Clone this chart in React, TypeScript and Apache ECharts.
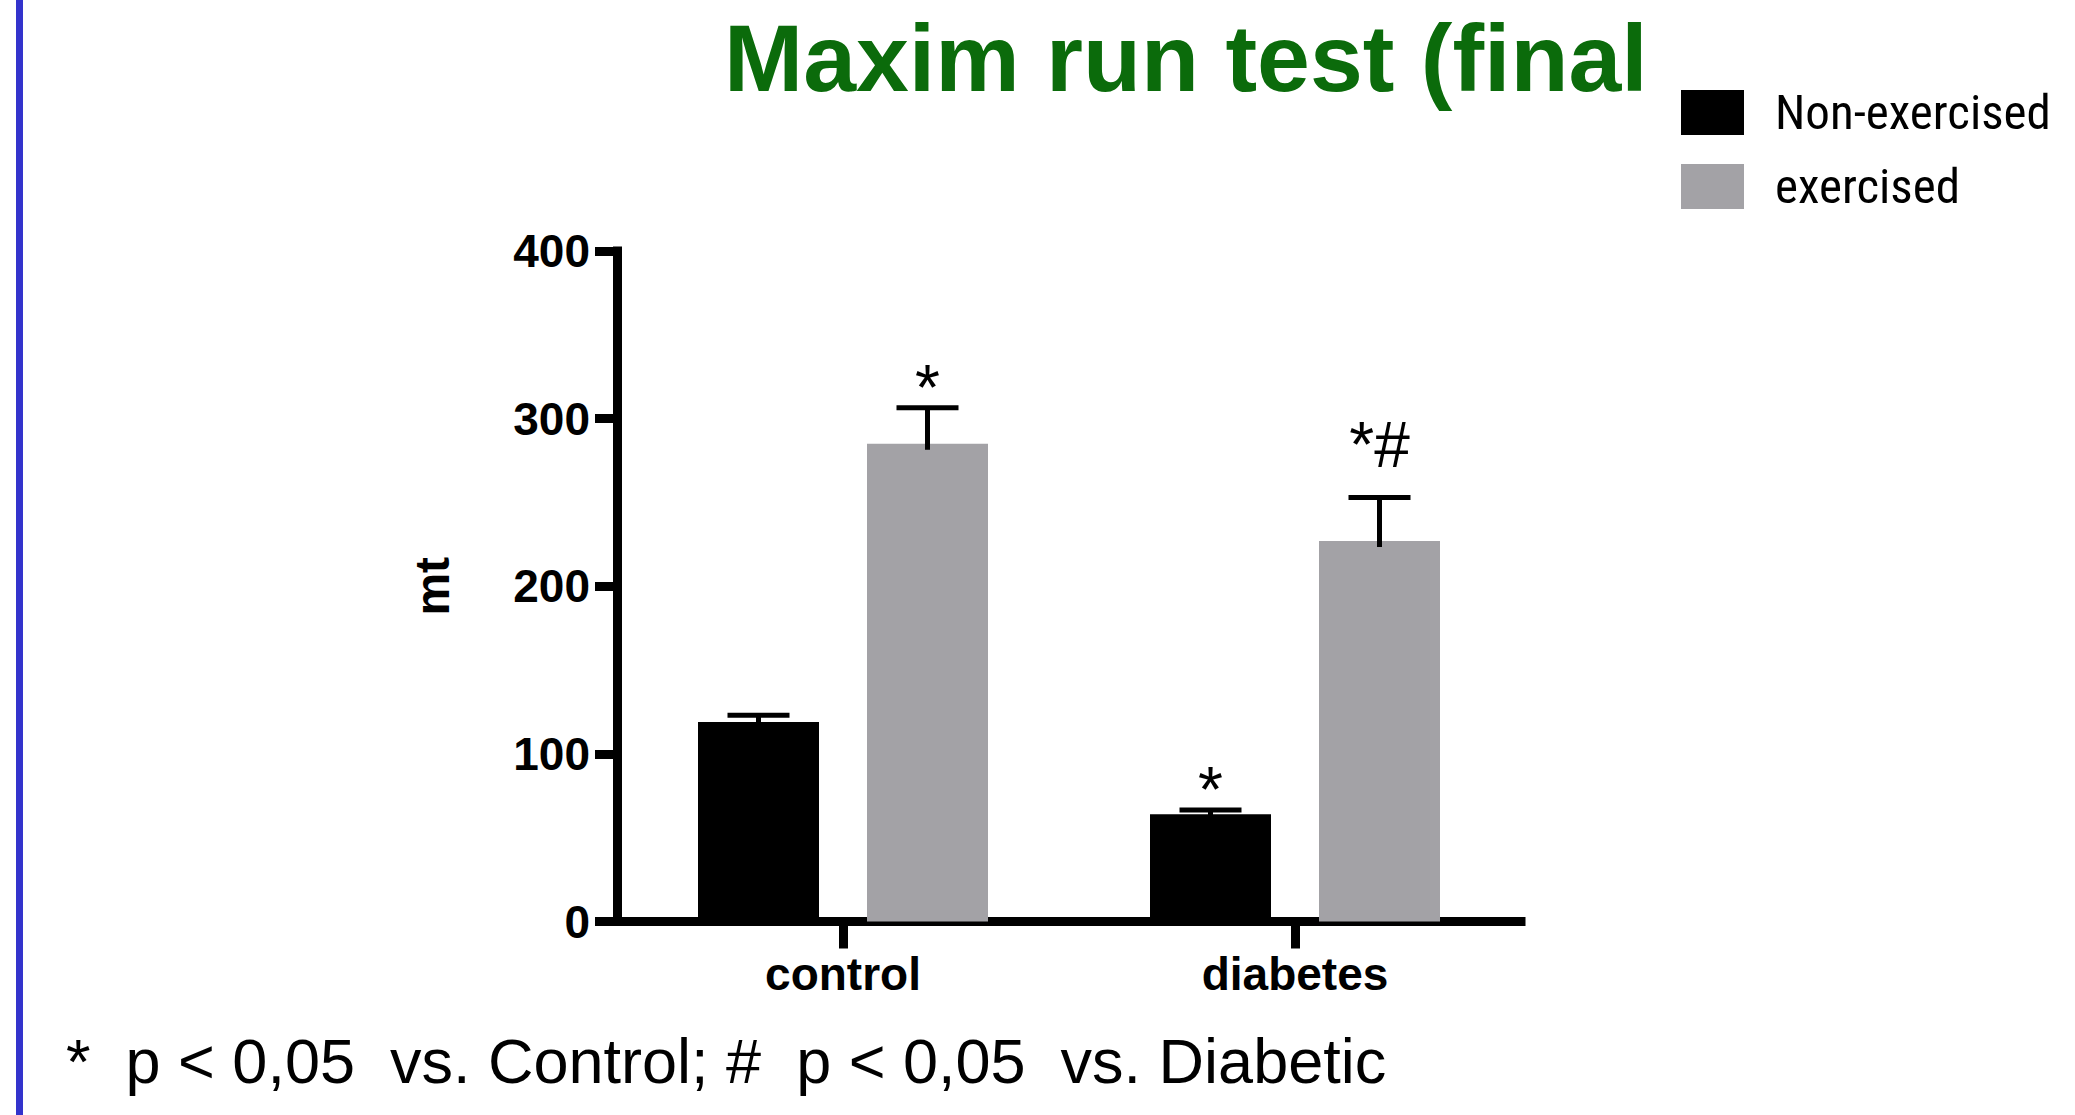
import React, { useEffect, useRef } from "react";
import * as echarts from "echarts";

// ---- data ----
const categories = ["control", "diabetes"];
const seriesNames = ["Non-exercised", "exercised"];
const nonExercisedMean = [119, 64];
const nonExercisedSem = [4, 2.5];
const exercisedMean = [285, 227];
const exercisedSem = [21.5, 26];
const nonExercisedMarks = ["", "*"];
const exercisedMarks = ["*", "*#"];
const yMin = 0;
const yMax = 400;
const yStep = 100;
const titleText = "Maxim run test (final";
const yAxisName = "mt";
const footnote = "*  p < 0,05  vs. Control; #  p < 0,05  vs. Diabetic";

// ---- styles ----
const FONT = '"Liberation Sans", Arial, sans-serif';
const NARROW = '"Liberation Sans Narrow", "Arial Narrow", "Roboto Condensed", "Liberation Sans", sans-serif';
const BLACK = "#000000";
const GRAY = "#a3a2a6";
const GREEN = "#0b6b0b";
const BAR_W = 121;
const BAR_GAP_PX = 48;
const OFFSET = (BAR_W + BAR_GAP_PX) / 2;
const CAP_HALF = 31;
const markLift: Record<string, number> = { "*": 20, "*#": 52 };

function errorSeries(means: number[], sems: number[], marks: string[], offset: number) {
  return {
    type: "custom",
    z: 5,
    silent: true,
    data: means.map((m, i) => [i, m, m + sems[i]]),
    encode: { x: 0, y: [1, 2] },
    renderItem: (params: any, api: any) => {
      const i = api.value(0);
      const base = api.coord([i, api.value(1)]);
      const top = api.coord([i, api.value(2)]);
      const x = base[0] + offset;
      const children: any[] = [
        {
          type: "line",
          shape: { x1: x, y1: base[1] + 6, x2: x, y2: top[1] },
          style: { stroke: BLACK, lineWidth: 5 },
        },
        {
          type: "line",
          shape: { x1: x - CAP_HALF, y1: top[1], x2: x + CAP_HALF, y2: top[1] },
          style: { stroke: BLACK, lineWidth: 5 },
        },
      ];
      const mark = marks[params.dataIndex];
      if (mark) {
        children.push({
          type: "text",
          style: {
            text: mark,
            x,
            y: top[1] - (markLift[mark] ?? 20),
            align: "center",
            verticalAlign: "middle",
            textAlign: "center",
            textVerticalAlign: "middle",
            font: `64px ${FONT}`,
            fill: BLACK,
          },
        });
      }
      return { type: "group", children };
    },
  };
}

export default function App() {
  const ref = useRef<HTMLDivElement>(null);
  useEffect(() => {
    document.body.style.margin = "0";
    const chart = echarts.init(ref.current!, null, { renderer: "svg" });
    chart.setOption({
      animation: false,
      backgroundColor: "#ffffff",
      title: {
        text: titleText,
        left: 724,
        top: 10,
        padding: 0,
        textStyle: { fontSize: 95, fontWeight: "bold", color: GREEN, fontFamily: FONT },
      },
      legend: {
        data: seriesNames,
        orient: "vertical",
        left: 1681,
        top: 88,
        padding: 0,
        itemWidth: 63,
        itemHeight: 45,
        itemGap: 25,
        icon: "rect",
        selectedMode: false,
        textStyle: {
          fontSize: 49,
          fontFamily: NARROW,
          color: BLACK,
          padding: [0, 0, 0, 26],
        },
      },
      grid: { left: 617, right: 554, top: 251, bottom: 193.5 },
      xAxis: {
        type: "category",
        data: categories,
        axisLine: { lineStyle: { color: BLACK, width: 9, cap: "square" } },
        axisTick: { show: true, alignWithLabel: true, length: 27, lineStyle: { color: BLACK, width: 9 } },
        axisLabel: { margin: 29, fontSize: 46, fontWeight: "bold", color: BLACK, fontFamily: FONT },
        splitLine: { show: false },
      },
      yAxis: {
        type: "value",
        min: yMin,
        max: yMax,
        interval: yStep,
        name: yAxisName,
        nameLocation: "middle",
        nameGap: 161,
        nameTextStyle: { fontSize: 48, fontWeight: "bold", color: BLACK, fontFamily: FONT },
        axisLine: { show: true, lineStyle: { color: BLACK, width: 9, cap: "square" } },
        axisTick: { show: true, length: 22, lineStyle: { color: BLACK, width: 9 } },
        axisLabel: { margin: 27, fontSize: 46, fontWeight: "bold", color: BLACK, fontFamily: FONT },
        splitLine: { show: false },
      },
      series: [
        {
          name: seriesNames[0],
          type: "bar",
          data: nonExercisedMean,
          barWidth: BAR_W,
          barGap: `${(BAR_GAP_PX / BAR_W) * 100}%`,
          itemStyle: { color: BLACK },
          z: 2,
        },
        {
          name: seriesNames[1],
          type: "bar",
          data: exercisedMean,
          barWidth: BAR_W,
          barGap: `${(BAR_GAP_PX / BAR_W) * 100}%`,
          itemStyle: { color: GRAY },
          z: 2,
        },
        errorSeries(nonExercisedMean, nonExercisedSem, nonExercisedMarks, -OFFSET),
        errorSeries(exercisedMean, exercisedSem, exercisedMarks, OFFSET),
      ],
      graphic: [
        { type: "rect", shape: { x: 16, y: 0, width: 7, height: 1115 }, style: { fill: "#3333cc" }, z: 10 },
        {
          type: "text",
          x: 66,
          y: 1061,
          style: {
            text: footnote,
            font: `63px ${FONT}`,
            fill: BLACK,
            align: "left",
            verticalAlign: "middle",
            textAlign: "left",
            textVerticalAlign: "middle",
          },
        },
      ],
    });
    return () => chart.dispose();
  }, []);
  return <div ref={ref} style={{ width: 2075, height: 1115 }} />;
}
